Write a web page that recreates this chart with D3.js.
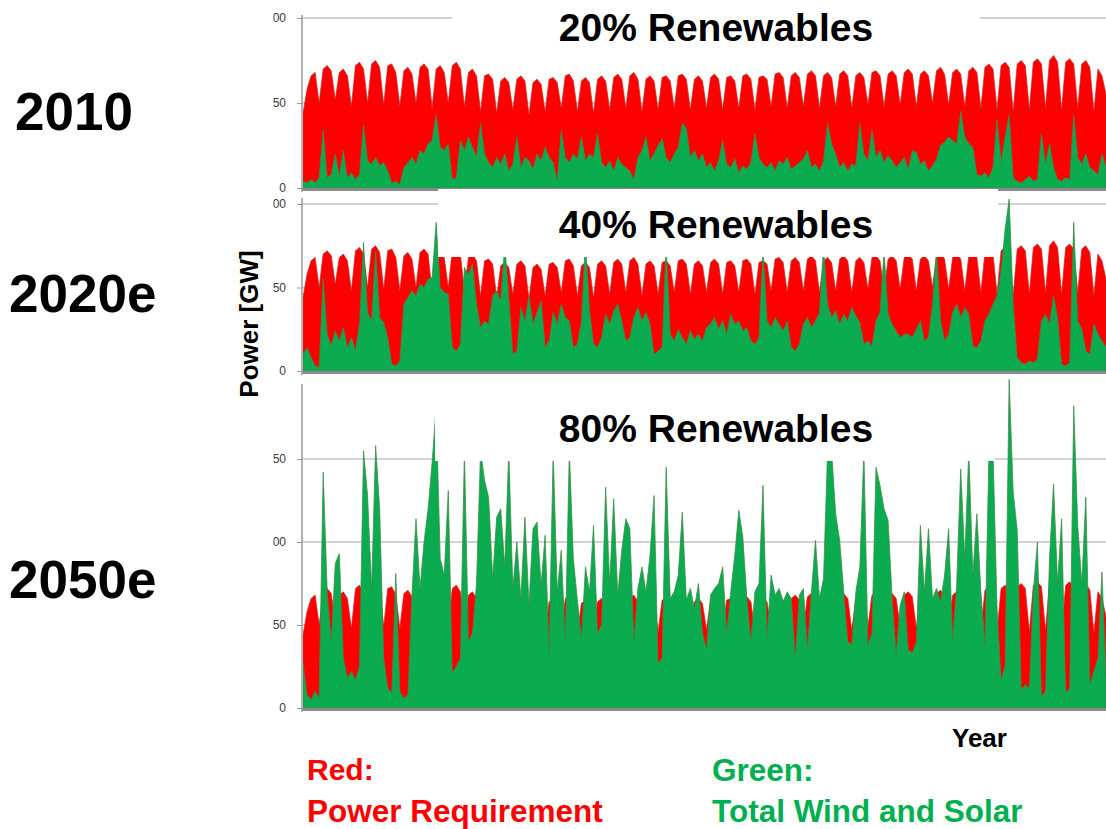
<!DOCTYPE html>
<html><head><meta charset="utf-8">
<script src="https://cdn.jsdelivr.net/npm/d3@7"></script>
<style>body{margin:0;background:#fff} svg{display:block} text{font-family:"Liberation Sans",Arial,sans-serif}</style>
</head><body><svg id="c" width="1106" height="829"></svg>
<script>
// Power requirement (GW), one value per ~week fraction across the year
const demand = [
44,58,66,68, 50,70,72,69, 52,68,70,66, 48,72,74,70, 50,73,75,71,
49,72,73,68, 48,69,71,67, 50,71,73,70, 47,70,72,68, 50,72,74,70,
48,68,70,66, 45,66,67,64, 44,63,65,62, 46,64,66,63, 43,62,64,61,
45,64,65,62, 47,66,67,63, 45,63,65,62, 44,64,66,63, 46,65,67,64,
47,66,68,64, 45,64,66,63, 46,65,66,63, 47,66,67,64, 46,64,66,63,
47,65,67,64, 46,65,66,63, 47,66,67,64, 46,65,66,64, 48,67,68,65,
47,66,68,65, 48,67,69,66, 47,66,68,65, 48,67,69,66, 47,66,68,65,
49,68,69,66, 48,67,69,66, 49,68,70,67, 48,67,69,66, 50,69,71,67,
49,68,70,67, 48,69,71,68, 47,71,73,70, 46,72,74,71, 45,73,75,72,
46,74,76,73, 47,75,78,74, 46,74,76,73, 47,73,75,71, 45,70,66,55
];
// Total wind and solar (GW)
const renew2010 = [
4,3,5,3,6, 34, 6,8,20,7,22,6,9,5,8, 37, 16,14,18,13,15,10, 3,4,2,
12,15,18,14,22,20,26,28, 43, 24,22,26, 5,6, 28,22,30,24, 18,38,20,15,
12,18,14,20,10, 14,30,12,18,16,11, 20,16,24,18,15, 4,
34,18,15,20,17,30,16,20,18,32,15, 12,16,10,18,14,12,10,5,
18,22,30,16,20,25,29,18,15, 20,24,38,35,18,22,16,20,
12,15,10,16,28,14,12,17,9,13,11,15,32,18,14,
12,15,10,16,14,18,11,13,15,17,22,12,14,10,16,
38,26,20, 12,15,10,14,13, 38, 20,16,34,18,22,15,19,16,
12,15,18,11,22,21,14,16,10,13,17, 25,27,30,28,26,45,30,26,24,
8,7,9,6,12, 40, 15,30,43, 6,4,3,5,7,4,5, 32,14,26,12, 5,4,6,5, 43,
18,14,20,12,10, 8,20,12
];
const renew2020 = [
10,14,8,3,2, 55,22,15, 24,18,26,14,20,12,28, 77, 35,30,72,32,29,20, 4,3,6,
40,44,48,45,52,50,55,56, 89, 50,47,46, 14,12,16, 62,58,64,40, 26,30,28,
45,48,42,76,44, 10,12, 38,30,45,28,35,42, 14,18, 35,28,40,32,30, 14,16,
30,78,36, 16,14,20, 34,28,36,40,30, 18,20, 32,38,30,35,28, 10,12,14, 75,
22,18,25,20,16,24,19,22,18,26, 28,32,25,30,22,34,28,30,24,26, 18,16,20, 72,
30,26,32,28,24,30, 14,12,16, 28,32,26,30,35,74,40, 32,36,28,34,30,38,33,29,
16,18,15, 30,35,72,34, 28,24,20,22, 22,20,25,30, 18,20,40, 72, 30,18,22,
35,40,32,38,34, 15,14,18, 30,34,40,45, 60,85,103,40, 8,5,4,6,5,7,
30,34,28,45,32, 4,3,5, 89, 30,25,12,10,28,22,18,14
];
const renew2050 = [
27,8,5,10,6,142,70,40,87,93,30,18,22,17,25,155,128,72,158,120,
30,12,9,81,10,6,8,68,114,72,100,120,148,181,90,80,131,21,25,30,
155,40,45,75,155,137,127,78,115,120,85,155,72,100,66,115,62,108,112,74,
104,33,155,70,95,40,155,90,65,42,85,70,110,45,50,133,75,126,68,95,
114,108,40,72,85,70,92,128,27,30,145,66,70,80,118,65,72,60,75,45,
35,68,72,75,85,45,70,92,119,103,66,40,70,75,134,42,80,68,72,64,
70,66,30,68,72,35,70,101,66,78,155,155,117,101,70,40,38,70,85,155,
38,45,145,134,120,113,66,32,62,70,35,33,40,110,70,108,66,72,64,80,
108,40,75,144,90,155,80,117,70,38,155,155,60,17,25,198,130,107,11,14,
12,70,100,7,10,90,135,75,114,9,12,182,110,75,127,14,22,30,82,18
];
const panelTitles = ["20% Renewables", "40% Renewables", "80% Renewables"];
const yearLabels = ["2010", "2020e", "2050e"];
const ticksSmall = [0, 50, 100];
const ticksLarge = [0, 50, 100, 150];
const yAxisTitle = "Power [GW]";
const xAxisTitle = "Year";
const legendRed = ["Red:", "Power Requirement"];
const legendGreen = ["Green:", "Total Wind and Solar"];

const svg = d3.select("#c");
const X0 = 302, X1 = 1106;
const RED = "#ff0000", GREEN = "#0bab4f";

const panels = [
  {renew: renew2010, max: 100, ticks: ticksSmall, yb: 188, yt: 18, clipTop: 0,
   box: [452, 0, 980, 46], title: panelTitles[0], ty: 41,
   year: yearLabels[0], yx: 15, yy: 130},
  {renew: renew2020, max: 100, ticks: ticksSmall, yb: 371, yt: 204, clipTop: 190,
   box: [438, 189, 998, 257], title: panelTitles[1], ty: 238,
   year: yearLabels[1], yx: 9, yy: 312},
  {renew: renew2050, max: 150, ticks: ticksLarge, yb: 708, yt: 459, clipTop: 376,
   box: [435, 377, 995, 461], title: panelTitles[2], ty: 442,
   year: yearLabels[2], yx: 9, yy: 598}
];

const defs = svg.append("defs");
defs.append("clipPath").attr("id", "lblclip").append("rect")
  .attr("x", 273.2).attr("y", 0).attr("width", 840).attr("height", 829);

panels.forEach((p, k) => {
  const y = d3.scaleLinear().domain([0, p.max]).range([p.yb, p.yt]);
  const cid = "pc" + k;
  defs.append("clipPath").attr("id", cid).append("rect")
    .attr("x", X0 + 1).attr("y", p.clipTop).attr("width", X1 - X0).attr("height", p.yb - p.clipTop + 1);
  const g = svg.append("g");
  // gridlines
  g.selectAll("line.grid").data(p.ticks.filter(t => t > 0)).join("line")
    .attr("x1", X0).attr("x2", X1).attr("y1", d => y(d)).attr("y2", d => y(d))
    .attr("stroke", "#c4c4c4").attr("stroke-width", 1.5);
  const dg = g.append("g").attr("clip-path", `url(#${cid})`);
  const xd = d3.scaleLinear().domain([0, demand.length - 1]).range([X0 + 1, X1]);
  const xr = d3.scaleLinear().domain([0, p.renew.length - 1]).range([X0 + 1, X1]);
  const areaD = d3.area().x((d, i) => xd(i)).y0(y(0)).y1(d => y(d));
  const areaR = d3.area().x((d, i) => xr(i)).y0(y(0)).y1(d => y(d));
  dg.append("path").attr("d", areaD(demand)).attr("fill", RED)
    .attr("stroke", "#c8261c").attr("stroke-width", 0.7);
  dg.append("path").attr("d", areaR(p.renew)).attr("fill", GREEN)
    .attr("stroke", "#3f8a47").attr("stroke-width", 0.9).attr("stroke-opacity", 0.85);
  // baseline
  g.append("line").attr("x1", X0).attr("x2", X1).attr("y1", p.yb + 1.5).attr("y2", p.yb + 1.5)
    .attr("stroke", "#8a8a8a").attr("stroke-width", 3);
  // axis (wrapped in an unshifted group so the label clip is in page coordinates)
  const wrap = g.append("g").attr("clip-path", "url(#lblclip)");
  const ax = wrap.append("g").attr("transform", `translate(${X0},0)`)
    .call(d3.axisLeft(y).tickValues(p.ticks).tickSize(5).tickPadding(11).tickFormat(d3.format("d")));
  ax.select(".domain").attr("stroke", "#9a9a9a").attr("stroke-width", 1.5)
    .attr("d", `M0,${p.clipTop + (k === 0 ? 15 : 8)}V${p.yb + 4}`);
  ax.selectAll(".tick line").attr("stroke", "#9a9a9a");
  ax.selectAll(".tick text").attr("fill", "#3a3a3a").attr("font-size", 12)
    .attr("font-family", "Liberation Sans, Arial, sans-serif");
  // title box + title
  svg.append("rect").attr("x", p.box[0]).attr("y", p.box[1])
    .attr("width", p.box[2] - p.box[0]).attr("height", p.box[3] - p.box[1]).attr("fill", "#fff");
  svg.append("text").attr("x", 716).attr("y", p.ty).attr("text-anchor", "middle")
    .attr("font-size", 39).attr("font-weight", "bold").attr("fill", "#000").text(p.title);
  // year label
  svg.append("text").attr("x", p.yx).attr("y", p.yy).attr("font-size", 53)
    .attr("font-weight", "bold").attr("fill", "#000").text(p.year);
});

svg.append("text").attr("transform", "translate(258,324) rotate(-90)")
  .attr("text-anchor", "middle").attr("font-size", 26).attr("font-weight", "bold").text(yAxisTitle);
svg.append("text").attr("x", 952).attr("y", 747).attr("font-size", 26)
  .attr("font-weight", "bold").text(xAxisTitle);

svg.append("text").attr("x", 307).attr("y", 780).attr("font-size", 30).attr("font-weight", "bold")
  .attr("fill", RED).text(legendRed[0]);
svg.append("text").attr("x", 307).attr("y", 822).attr("font-size", 31.5).attr("font-weight", "bold")
  .attr("fill", RED).text(legendRed[1]);
svg.append("text").attr("x", 712).attr("y", 781).attr("font-size", 31.5).attr("font-weight", "bold")
  .attr("fill", "#00b050").text(legendGreen[0]);
svg.append("text").attr("x", 712).attr("y", 822).attr("font-size", 31.5).attr("font-weight", "bold")
  .attr("fill", "#00b050").text(legendGreen[1]);
</script></body></html>
